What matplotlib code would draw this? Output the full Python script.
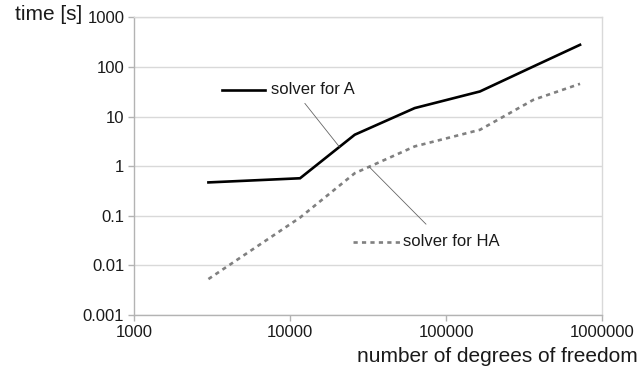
import numpy as np
import matplotlib
matplotlib.use("Agg")
import matplotlib.pyplot as plt
from matplotlib.ticker import FixedLocator, FixedFormatter, NullLocator

# ---- data ----
dof = [3000, 11600, 26000, 63000, 165000, 363000, 723000]
time_A = [0.47, 0.57, 4.3, 14.8, 32, 102, 279]
time_HA = [0.0053, 0.092, 0.72, 2.5, 5.4, 21.7, 45.6]
series_labels = ["solver for A", "solver for HA"]
x_ticks = [1000, 10000, 100000, 1000000]
x_tick_labels = ["1000", "10000", "100000", "1000000"]
y_ticks = [0.001, 0.01, 0.1, 1, 10, 100, 1000]
y_tick_labels = ["0.001", "0.01", "0.1", "1", "10", "100", "1000"]
x_title = "number of degrees of freedom"
y_title = "time [s]"

plt.rcParams['font.family'] = ['Liberation Sans', 'DejaVu Sans']

fig = plt.figure(figsize=(6.39, 3.73), dpi=100)
ax = fig.add_axes([134/639, 1-315/373, 468/639, (315-17.3)/373])
ax.set_xscale('log')
ax.set_yscale('log')
ax.set_xlim(x_ticks[0], x_ticks[-1])
ax.set_ylim(y_ticks[0], y_ticks[-1])

grid_c = '#d9d9d9'
axis_c = '#b3b3b3'
txt_c = '#1a1a1a'
for y in y_ticks:
    ax.axhline(y, color=grid_c, lw=1.0, zorder=0)

lA, = ax.plot(dof, time_A, color='black', lw=1.9, solid_joinstyle='miter', zorder=3)
lHA, = ax.plot(dof, time_HA, color='#808080', lw=1.9, dashes=(1.6, 1.6), zorder=3)

ax.xaxis.set_major_locator(FixedLocator(x_ticks))
ax.xaxis.set_major_formatter(FixedFormatter(x_tick_labels))
ax.yaxis.set_major_locator(FixedLocator(y_ticks))
ax.yaxis.set_major_formatter(FixedFormatter(y_tick_labels))
ax.xaxis.set_minor_locator(NullLocator())
ax.yaxis.set_minor_locator(NullLocator())
ax.tick_params(axis='both', which='major', labelsize=12, colors=txt_c,
               length=4, width=1, color=axis_c)
ax.tick_params(axis='x', pad=3)
ax.tick_params(axis='y', pad=3)

for s in ['left', 'bottom']:
    ax.spines[s].set_color(axis_c)
    ax.spines[s].set_linewidth(1)
for s in ['right', 'top']:
    ax.spines[s].set_color(grid_c)
    ax.spines[s].set_linewidth(1)

# labels with leader lines
def seg_point(xs, ys, i, f):
    lx = np.log10(xs[i]) + f*(np.log10(xs[i+1]) - np.log10(xs[i]))
    ly = np.log10(ys[i]) + f*(np.log10(ys[i+1]) - np.log10(ys[i]))
    return 10**lx, 10**ly

tA = seg_point(dof, time_A, 1, 0.72)
tHA = seg_point(dof, time_HA, 2, 0.24)

ax.annotate("", xy=tA, xycoords='data', xytext=(0.365, 0.711), textcoords='axes fraction',
            arrowprops=dict(arrowstyle='-', color='#666666', lw=0.6, shrinkA=0, shrinkB=0))
ax.annotate("", xy=tHA, xycoords='data', xytext=(0.624, 0.305), textcoords='axes fraction',
            arrowprops=dict(arrowstyle='-', color='#666666', lw=0.6, shrinkA=0, shrinkB=0))

ax.plot([0.187, 0.280], [0.756, 0.756], transform=ax.transAxes, color='black', lw=1.9, clip_on=False)
ax.text(0.293, 0.756, series_labels[0], transform=ax.transAxes, fontsize=12,
        va='center', ha='left', color=txt_c)
ax.plot([0.468, 0.568], [0.246, 0.246], transform=ax.transAxes, color='#808080', lw=1.9,
        dashes=(1.6, 1.6), clip_on=False)
ax.text(0.575, 0.246, series_labels[1], transform=ax.transAxes, fontsize=12,
        va='center', ha='left', color=txt_c)

fig.text(15/639, 1-15/373, y_title, fontsize=15, ha='left', va='center', color=txt_c)
fig.text(638/639, 1-357/373, x_title, fontsize=15, ha='right', va='center', color=txt_c)

fig.savefig('out.png', dpi=100)
